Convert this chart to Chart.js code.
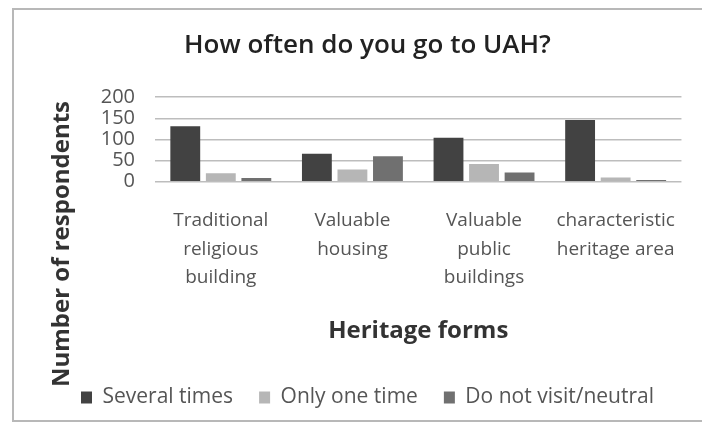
<!DOCTYPE html>
<html>
<head>
<meta charset="utf-8">
<script src="https://cdn.jsdelivr.net/npm/chart.js@4.4.1/dist/chart.umd.min.js"></script>
<style>
  html, body { margin: 0; padding: 0; background: #fff; }
  #wrap { position: relative; width: 702px; height: 432px; overflow: hidden; }
  #frame {
    position: absolute; left: 12px; top: 8px; width: 700px; height: 414px;
    border: 2px solid #b8b8b8; box-sizing: border-box;
  }
  canvas { position: absolute; left: 0; top: 0; }
</style>
</head>
<body>
<div id="wrap">
  <div id="frame"></div>
  <canvas id="chart" width="702" height="432"></canvas>
</div>
<script>
// heritage forms on the x axis, one array per answer
const categories = [
  ["Traditional", "religious", "building"],
  ["Valuable", "housing"],
  ["Valuable", "public", "buildings"],
  ["characteristic", "heritage area"]
];
const severalTimes = [131, 66, 104, 146];
const onlyOneTime = [20, 29, 42, 10];
const notVisit = [9, 60, 22, 4];
const yTicks = [0, 50, 100, 150, 200];

const FONT = "'Open Sans', 'DejaVu Sans', sans-serif";

// y title is centred on the whole left side, not only the plot area
const yTitlePlugin = {
  id: 'yTitle',
  afterDraw(chart) {
    const ctx = chart.ctx;
    ctx.save();
    ctx.translate(62, 244);
    ctx.rotate(-Math.PI / 2);
    ctx.font = "bold 24px " + FONT;
    ctx.fillStyle = '#333';
    ctx.textAlign = 'center';
    ctx.textBaseline = 'middle';
    ctx.fillText('Number of respondents', 0, 0);
    ctx.restore();
  }
};

new Chart(document.getElementById('chart'), {
  type: 'bar',
  data: {
    labels: categories,
    datasets: [
      { label: 'Several times', data: severalTimes, backgroundColor: '#424242' },
      { label: 'Only one time', data: onlyOneTime, backgroundColor: '#b6b6b6' },
      { label: 'Do not visit/neutral', data: notVisit, backgroundColor: '#707070' }
    ]
  },
  options: {
    responsive: false,
    animation: false,
    layout: { padding: { left: 50, right: 17, top: 0, bottom: 14 } },
    datasets: { bar: { categoryPercentage: 0.81, barPercentage: 0.84 } },
    plugins: {
      tooltip: { enabled: false },
      title: {
        display: true,
        text: 'How often do you go to UAH?',
        color: '#222',
        font: { family: FONT, size: 26, weight: '600' },
        padding: { top: 30, bottom: 36 }
      },
      legend: {
        position: 'bottom',
        labels: {
          color: '#555',
          font: { family: FONT, size: 21 },
          boxWidth: 11,
          boxHeight: 12,
          padding: 26
        }
      }
    },
    scales: {
      x: {
        grid: { display: false, drawTicks: false },
        border: { display: false },
        ticks: {
          color: '#555',
          font: { family: FONT, size: 19, lineHeight: 1.5 },
          padding: 25,
          maxRotation: 0,
          autoSkip: false
        },
        title: {
          display: true,
          text: 'Heritage forms',
          color: '#333',
          font: { family: FONT, size: 24, weight: 'bold' },
          padding: { top: 0, bottom: 15 }
        }
      },
      y: {
        min: yTicks[0],
        max: yTicks[yTicks.length - 1],
        afterBuildTicks(scale) { scale.ticks = yTicks.map(v => ({ value: v })); },
        afterFit(scale) { scale.width = 105; },
        grid: { color: '#bdbdbd', lineWidth: 1.5, drawTicks: false },
        border: { display: false },
        ticks: {
          color: '#555',
          font: { family: FONT, size: 20 },
          padding: 20,
          autoSkip: false
        }
      }
    }
  },
  plugins: [yTitlePlugin]
});
</script>
</body>
</html>
